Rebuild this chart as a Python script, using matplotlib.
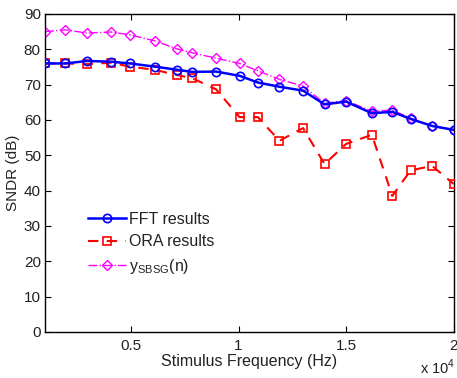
import matplotlib
matplotlib.use("Agg")
import matplotlib.pyplot as plt

plt.rcParams['font.family'] = ['Liberation Sans', 'DejaVu Sans']

freq_hz = [1000, 1950, 2950, 4050, 4950, 6100, 7150, 7850, 8950, 10050,
           10900, 11900, 13000, 14000, 15000, 16200, 17150, 18000, 19000, 20000]
fft_db = [76.0, 76.0, 76.7, 76.5, 76.0, 75.1, 74.2, 73.6, 73.7, 72.5,
          70.6, 69.4, 68.3, 64.4, 65.2, 61.9, 62.3, 60.3, 58.3, 57.2]
ora_db = [76.0, 76.0, 75.8, 76.2, 75.1, 74.2, 72.7, 71.8, 68.7, 60.8,
          60.8, 54.1, 57.7, 47.5, 53.2, 55.8, 38.5, 45.7, 47.0, 41.9]
sbsg_db = [85.0, 85.5, 84.6, 84.9, 84.1, 82.4, 80.1, 79.0, 77.5, 76.0,
           73.9, 71.5, 69.6, 64.7, 65.5, 62.4, 62.8, 60.5, 58.3, 57.2]

xticks = [5000, 10000, 15000, 20000]
xtick_labels = ["0.5", "1", "1.5", "2"]
yticks = list(range(0, 91, 10))

txt = '#222222'
fig = plt.figure(figsize=(4.57, 3.78), dpi=100)
ax = fig.add_axes([0.0985, 0.122, 0.894, 0.841])

ax.plot(freq_hz, sbsg_db, color='#ff00ff', linestyle='-.', linewidth=1.0,
        marker='D', markersize=5, markerfacecolor='none', markeredgewidth=1.0,
        label=r'y$_{\mathregular{SBSG}}$(n)', zorder=2)
ax.plot(freq_hz, ora_db, color='#ff0000', linestyle=(0, (5, 4)), linewidth=1.5,
        marker='s', markersize=6, markerfacecolor='none', markeredgewidth=1.2,
        label='ORA results', zorder=3)
ax.plot(freq_hz, fft_db, color='#0000ff', linestyle='-', linewidth=1.8,
        marker='o', markersize=6, markerfacecolor='none', markeredgewidth=1.2,
        label='FFT results', zorder=4)

ax.set_xlim(1000, 20000)
ax.set_ylim(0, 90)
ax.set_xticks(xticks)
ax.set_xticklabels(xtick_labels)
ax.set_yticks(yticks)
ax.tick_params(direction='in', top=True, right=True, labelsize=11, length=4,
               labelcolor=txt)
ax.tick_params(axis='x', pad=5)
ax.tick_params(axis='y', pad=3)
for s in ax.spines.values():
    s.set_linewidth(1.0)

ax.set_xlabel('Stimulus Frequency (Hz)', fontsize=11.5, labelpad=1, color=txt)
ax.set_ylabel('SNDR (dB)', fontsize=11, labelpad=3, color=txt)
fig.text(0.997, 0.003, r'x 10$^{\mathregular{4}}$', ha='right', va='bottom',
         fontsize=10.5, color=txt)

handles, labels = ax.get_legend_handles_labels()
order = [2, 1, 0]
leg = ax.legend([handles[i] for i in order], [labels[i] for i in order],
                loc='upper left', bbox_to_anchor=(0.105, 0.378), frameon=False,
                borderaxespad=0, borderpad=0,
                fontsize=11.5, handlelength=2.4, handletextpad=0.15, labelspacing=0.47)
for t in leg.get_texts():
    t.set_color(txt)

fig.savefig('out.png', dpi=100)
